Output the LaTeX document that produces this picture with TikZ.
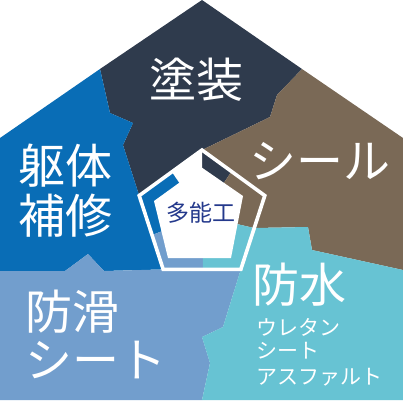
\documentclass[tikz,border=0pt]{standalone}
\usepackage{fontspec}
\newfontfamily\jp{Noto Sans CJK JP}
\definecolor{navy}{HTML}{2F3B4D}
\definecolor{bodyblue}{HTML}{096DB6}
\definecolor{brownish}{HTML}{7A6956}
\definecolor{cyanish}{HTML}{67C3D3}
\definecolor{lightblue}{HTML}{729ECD}
\definecolor{centertext}{HTML}{24398C}
\begin{document}
\begin{tikzpicture}[x=1pt,y=-1pt,
  biglbl/.style={text=white, inner sep=0pt, font=\jp\fontsize{47}{50}\selectfont},
  smalllbl/.style={text=white, inner sep=0pt, anchor=west, font=\jp\fontsize{21}{24}\selectfont},
  ringline/.style={white, line width=3.6pt, line join=miter}]
\useasboundingbox (0,0) rectangle (403,400);
% centre and outer white pentagon vertices
\coordinate (C) at (202,216);
\coordinate (A) at (202,150);
\coordinate (R) at (264.8,195.6);
\coordinate (BR) at (240.8,269.4);
\coordinate (BL) at (163.2,269.4);
\coordinate (L) at (139.2,195.6);
% spoke points on the ring
\coordinate (P1) at (231.5,171.4);
\coordinate (P2) at (254.2,228);
\coordinate (P3) at (203,269.4);
\coordinate (P4) at (152,235);
\coordinate (P5) at (171.9,171.9);
% regions
\fill[navy] (202,0) -- (302,69) -- (277,95) -- (270,117) -- (A) -- (P1) -- (C) -- (P5) -- (L)
  -- (123,145) -- (133,123) -- (110,113) -- (100,69) -- cycle;
\fill[brownish] (302,69) -- (403,138) -- (403,270) -- (312,250) -- (308,227) -- (P2) -- (C)
  -- (P1) -- (A) -- (270,117) -- (277,95) -- cycle;
\fill[bodyblue] (0,138) -- (100,69) -- (110,113) -- (133,123) -- (123,145) -- (L) -- (P5)
  -- (C) -- (P4) -- (BL) -- (104,271) -- (88,254) -- (65,271) -- (0,271) -- cycle;
\fill[lightblue] (0,271) -- (65,271) -- (88,254) -- (104,271) -- (BL) -- (P4) -- (C) -- (P3)
  -- (BR) -- (223,327) -- (202,337) -- (210,363) -- (202,400) -- (0,400) -- cycle;
\fill[cyanish] (C) -- (P3) -- (BR) -- (223,327) -- (202,337) -- (210,363) -- (202,400)
  -- (403,400) -- (403,270) -- (312,250) -- (308,227) -- (P2) -- cycle;
% white gap in the ring and centre pentagon
\fill[white] (P5) -- (A) -- (C) -- cycle;
\draw[ringline] (A) -- (R) -- (BR) -- (BL) -- (L) -- cycle;
\fill[white] (201,167) -- (243,196) -- (231,258) -- (168,258) -- (154,201) -- cycle;
% labels
\node[biglbl] (tosou) at (196,80) {塗装};
\node[biglbl] (seal) at (320,161) {シール};
\node[biglbl] (kutai) at (65,166) {躯体};
\node[biglbl] (hoshu) at (65,216) {補修};
\node[biglbl, anchor=west] (bokatsu) at (25,312) {防滑};
\node[biglbl, anchor=west] (sheet1) at (25,360) {シート};
\node[biglbl] (bousui) at (299,285) {防水};
\node[smalllbl] (uretan) at (256,327) {ウレタン};
\node[smalllbl] (sheet2) at (256,351) {シート};
\node[smalllbl] (asphalt) at (256,377) {アスファルト};
\node[inner sep=0pt, text=centertext, font=\jp\fontsize{23}{25}\selectfont] (tanoukou) at (201,213) {多能工};
\end{tikzpicture}
\end{document}
